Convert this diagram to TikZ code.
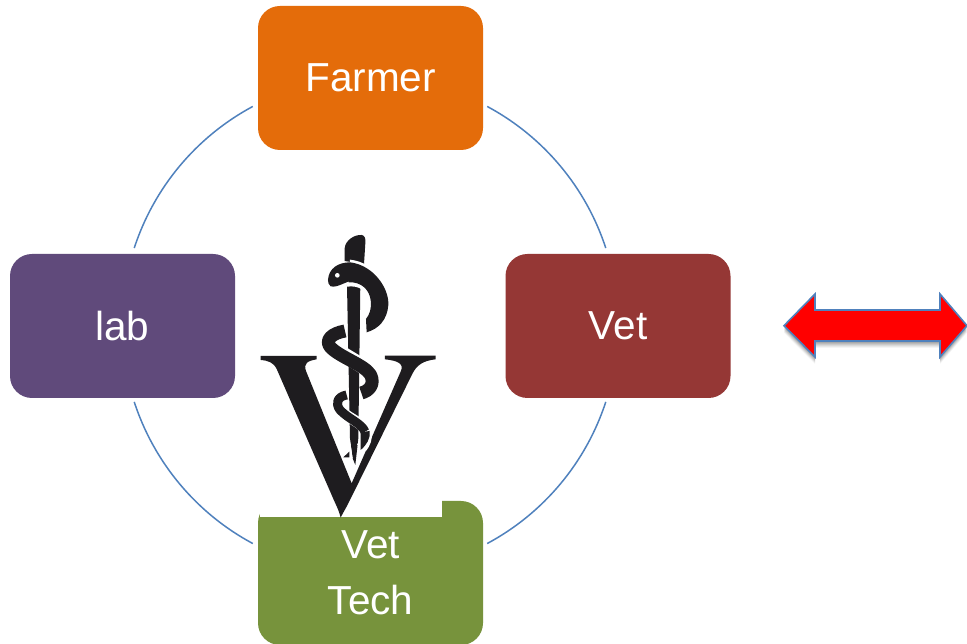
\documentclass[tikz,border=0pt]{standalone}
\usepackage{fontspec}
\setmainfont{Liberation Sans}
\begin{document}
\begin{tikzpicture}[x=1pt,y=1pt,
  box/.style={rectangle,rounded corners=22pt,minimum width=225pt,minimum height=144pt,inner sep=0pt,text=white,align=center,font=\fontsize{40.5}{56}\selectfont},
  ring/.style={draw=ringblue,line width=1.5pt},
  blackpart/.style={fill=logoblack,draw=none},
  coil/.style={draw=logoblack,line cap=butt,line join=round},
  halo/.style={draw=white,line cap=butt}]
\definecolor{ringblue}{HTML}{4F81BD}
\definecolor{logoblack}{HTML}{1E1C1F}
\definecolor{farmerc}{HTML}{E46C0A}
\definecolor{vetc}{HTML}{953735}
\definecolor{labc}{HTML}{604A7B}
\definecolor{techc}{HTML}{77933C}
\useasboundingbox (0,0) rectangle (967,644);
\fill[white] (0,0) rectangle (967,644);
% ring
\coordinate (hub) at (370,319);
\draw[ring] ([shift={(61.8:248)}]hub) arc[start angle=61.8,end angle=18.07,radius=248];
\draw[ring] ([shift={(-18.07:248)}]hub) arc[start angle=-18.07,end angle=-61.8,radius=248];
\draw[ring] ([shift={(-118.2:248)}]hub) arc[start angle=-118.2,end angle=-161.93,radius=248];
\draw[ring] ([shift={(161.93:248)}]hub) arc[start angle=161.93,end angle=118.2,radius=248];
% boxes
\node[box,fill=farmerc] (farmer) at (370.5,566) {Farmer};
\node[box,fill=vetc] (vet) at (618,318) {Vet};
\node[box,fill=labc] (lab) at (122.5,318) {lab};
\node[box,fill=techc] (tech) at (370.5,71) {Vet\\Tech};
% white patch from the pasted logo
\fill[white] (260,127) rectangle (442,150);
% logo, in coordinates of a 3x enlargement
\begin{scope}[shift={(250,419)},x=0.3333pt,y=-0.3333pt]
  % V
  \path[blackpart] (32,393) -- (200,393) -- (200,403) .. controls (172,408) and (160,415) .. (168,438)
    -- (305,775) -- (452,440) .. controls (464,414) and (440,407) .. (405,403) -- (405,392) -- (557,392) -- (557,403)
    .. controls (520,407) and (500,420) .. (487,447) -- (300,825) .. controls (288,850) and (278,865) .. (272,878)
    .. controls (265,850) and (255,835) .. (245,810) -- (80,432) .. controls (70,412) and (55,407) .. (32,405) -- cycle;
  % rod
  \path[blackpart] (284,108) -- (284,70) .. controls (286,45) and (315,28) .. (335,30) .. controls (345,32) and (347,40) .. (346,55) -- (342,118) -- cycle;
  \path[blackpart] (291,180) -- (331,180) -- (325,640) -- (316,720) -- (308,700) -- (300,640) -- cycle;
  \draw[white,line width=0.7pt] (300,655) -- (307,700);
  \path[blackpart] (280,697) -- (298,680) -- (298,697) -- cycle;
  % upper coil
  \path[fill=white] (300,104) .. controls (375,112) and (426,185) .. (423,240) .. controls (420,290) and (390,320) .. (346,330) -- (342,275) .. controls (352,265) and (358,248) .. (355,228) .. controls (350,198) and (330,180) .. (290,185) -- cycle;
  \path[blackpart] (300,112) .. controls (370,120) and (418,190) .. (415,240) .. controls (412,285) and (385,312) .. (350,322) -- (348,282) .. controls (358,270) and (366,250) .. (362,225) .. controls (358,195) and (335,170) .. (296,172) -- cycle;
  % head
  \path[blackpart] (234,165) .. controls (236,130) and (265,112) .. (300,112) -- (320,165) .. controls (290,165) and (265,190) .. (242,184) .. controls (236,180) and (234,172) .. (234,165) -- cycle;
  \fill[white] (262,151) circle[radius=7];
  % middle coil
  \draw[halo,line width=15pt] (262,375) .. controls (300,405) and (345,420) .. (365,450) .. controls (380,478) and (360,500) .. (336,507);
  \draw[coil,line width=13pt] (285,318) .. controls (245,325) and (225,345) .. (240,365) .. controls (265,395) and (345,420) .. (362,450) .. controls (375,478) and (358,498) .. (334,504);
  % lower coil
  \draw[halo,line width=11pt] (275,560) .. controls (305,585) and (340,595) .. (348,620) .. controls (352,640) and (345,655) .. (335,668);
  \draw[coil,line width=9pt] (290,510) .. controls (262,515) and (255,535) .. (270,555) .. controls (295,582) and (335,595) .. (345,620);
  \path[blackpart] (359,618) .. controls (362,640) and (350,660) .. (332,675) .. controls (332,650) and (332,635) .. (332,622) -- cycle;
\end{scope}
% double arrow with soft shadow
\foreach \d/\o in {7/0.04,6/0.05,5/0.06,4/0.07,3/0.08,2/0.09}{
  \fill[black,opacity=\o,shift={(0,-\d)}] (784,318.3) -- (815,350) -- (815,334) -- (940,334) -- (940,350) -- (967,318.3) -- (940,287) -- (940,303) -- (815,303) -- (815,287) -- cycle;
}
\path[fill=red,draw=ringblue,line width=1.6pt,line join=miter] (784,318.3) -- (815,350) -- (815,334) -- (940,334) -- (940,350) -- (967,318.3) -- (940,287) -- (940,303) -- (815,303) -- (815,287) -- cycle;
\end{tikzpicture}
\end{document}
